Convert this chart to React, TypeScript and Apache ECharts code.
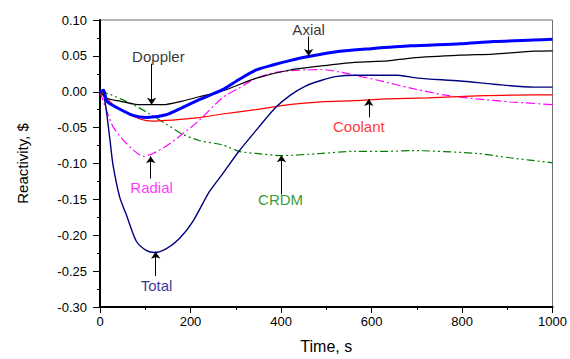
import React, { useEffect, useRef } from "react";
import * as echarts from "echarts";

// ---- data (time in s, reactivity in $) ----
const axialT = [0, 8, 15, 37, 73, 103, 146, 182, 219, 270, 307, 344, 380, 417, 461, 526, 599, 687, 796, 870, 958, 1000];
const axialV = [0, 0.002, -0.013, -0.022, -0.033, -0.036, -0.032, -0.022, -0.011, 0.0025, 0.017, 0.030, 0.037, 0.043, 0.049, 0.056, 0.060, 0.064, 0.067, 0.070, 0.072, 0.073];

const dopplerT = [0, 15, 44, 88, 139, 182, 219, 270, 344, 417, 489, 563, 636, 687, 796, 870, 958, 1000];
const dopplerV = [0, -0.009, -0.013, -0.018, -0.018, -0.013, -0.007, 0.001, 0.0186, 0.030, 0.036, 0.041, 0.043, 0.047, 0.051, 0.0525, 0.0565, 0.057];

const coolantT = [0, 15, 29, 58, 88, 117, 146, 219, 270, 344, 417, 489, 563, 636, 724, 833, 958, 1000];
const coolantV = [0, -0.009, -0.018, -0.029, -0.038, -0.041, -0.040, -0.036, -0.031, -0.025, -0.018, -0.014, -0.0125, -0.010, -0.0085, -0.0058, -0.0044, -0.0044];

const radialT = [0, 15, 29, 51, 73, 95, 117, 146, 182, 219, 270, 307, 344, 388, 439, 489, 526, 563, 614, 687, 760, 833, 906, 1000];
const radialV = [0, -0.027, -0.049, -0.067, -0.081, -0.090, -0.086, -0.076, -0.059, -0.040, -0.0085, 0.005, 0.0186, 0.027, 0.030, 0.031, 0.028, 0.023, 0.016, 0.005, -0.0044, -0.010, -0.014, -0.018];

const crdmT = [0, 20, 73, 110, 146, 182, 219, 270, 307, 344, 401, 489, 563, 636, 687, 833, 906, 1000];
const crdmV = [0, -0.003, -0.018, -0.031, -0.045, -0.059, -0.068, -0.074, -0.083, -0.086, -0.089, -0.086, -0.083, -0.083, -0.082, -0.086, -0.092, -0.099];

const totalT = [0, 6, 10, 15, 22, 29, 44, 58, 80, 102, 121, 146, 175, 205, 241, 268, 307, 350, 388, 420, 454, 490, 520, 563, 658, 702, 796, 870, 958, 1000];
const totalV = [0, 0.002, -0.01, -0.031, -0.067, -0.103, -0.148, -0.171, -0.208, -0.221, -0.224, -0.219, -0.205, -0.181, -0.140, -0.117, -0.083, -0.050, -0.022, -0.005, 0.008, 0.016, 0.021, 0.023, 0.023, 0.019, 0.015, 0.0105, 0.0065, 0.0065];

// annotation labels: text, anchor (time, value), colour
const labelNames = ["Doppler", "Axial", "Coolant", "Radial", "Total", "CRDM"];
const labelT = [129, 461, 572, 114, 125, 399];
const labelV = [0.0498, 0.0864, -0.048, -0.133, -0.270, -0.150];
const labelColors = ["#000000", "#000000", "#ff0000", "#ff00ff", "#000080", "#008000"];

// arrows: from (t, v1) to tip (t, v2)
const arrowT = [114, 461, 594, 112, 123, 401];
const arrowFrom = [0.039, 0.077, -0.0356, -0.121, -0.257, -0.143];
const arrowTo = [-0.018, 0.0498, -0.010, -0.090, -0.223, -0.0885];

const zip = (t: number[], v: number[]) => t.map((x, i) => [x, v[i]]);
const FONT = "Liberation Sans, Arial, Helvetica, sans-serif";

export default function App() {
  const ref = useRef<HTMLDivElement>(null);
  useEffect(() => {
    if (!ref.current) return;
    const chart = echarts.init(ref.current, null, { renderer: "svg" });
    const lineBase = {
      type: "line",
      showSymbol: false,
      symbol: "none",
      silent: true,
      smooth: 0.25,
    };
    chart.setOption({
      animation: false,
      backgroundColor: "#ffffff",
      grid: { left: 100, right: 14, top: 20, bottom: 44, show: true, borderColor: "#6e6e6e", borderWidth: 1 },
      xAxis: {
        type: "value",
        min: 0,
        max: 1000,
        interval: 200,
        name: "Time, s",
        nameLocation: "middle",
        nameGap: 31,
        nameTextStyle: { fontSize: 16, color: "#000", fontFamily: FONT },
        axisLine: { onZero: false, lineStyle: { color: "#000", width: 2 } },
        axisTick: { show: true, inside: false, length: 6, lineStyle: { color: "#000", width: 1 } },
        minorTick: { show: true, splitNumber: 2, length: 3, lineStyle: { color: "#000", width: 1 } },
        axisLabel: { fontSize: 13, color: "#000", fontFamily: FONT, margin: 8, formatter: (v: number) => String(v) },
        splitLine: { show: false },
      },
      yAxis: {
        type: "value",
        min: -0.3,
        max: 0.1,
        interval: 0.05,
        name: "Reactivity, $",
        nameLocation: "middle",
        nameGap: 70,
        nameTextStyle: { fontSize: 15, color: "#000", fontFamily: FONT },
        axisLine: { onZero: false, lineStyle: { color: "#000", width: 2 } },
        axisTick: { show: true, inside: false, length: 7, lineStyle: { color: "#000", width: 1 } },
        minorTick: { show: true, splitNumber: 2, length: 3, lineStyle: { color: "#000", width: 1 } },
        axisLabel: {
          fontSize: 13,
          color: "#000",
          fontFamily: FONT,
          margin: 13,
          formatter: (v: number) => v.toFixed(2),
        },
        splitLine: { show: false },
      },
      series: [
        { ...lineBase, name: "CRDM", data: zip(crdmT, crdmV), lineStyle: { color: "#008000", width: 1.2, type: [8, 3, 2, 3, 2, 3] } },
        { ...lineBase, name: "Radial", data: zip(radialT, radialV), lineStyle: { color: "#ff00ff", width: 1.2, type: [9, 3, 2, 3] } },
        { ...lineBase, name: "Coolant", data: zip(coolantT, coolantV), lineStyle: { color: "#ff0000", width: 1.2 } },
        { ...lineBase, name: "Doppler", data: zip(dopplerT, dopplerV), lineStyle: { color: "#000000", width: 1.2 } },
        { ...lineBase, name: "Total", data: zip(totalT, totalV), lineStyle: { color: "#000080", width: 1.4 } },
        { ...lineBase, name: "Axial", data: zip(axialT, axialV), lineStyle: { color: "#0000ff", width: 3 } },
        {
          type: "scatter",
          name: "labels",
          silent: true,
          symbolSize: 1,
          itemStyle: { color: "rgba(0,0,0,0)" },
          data: labelNames.map((n, i) => ({
            value: [labelT[i], labelV[i]],
            label: {
              show: true,
              position: "inside",
              formatter: n,
              color: labelColors[i],
              fontSize: 15,
              fontFamily: FONT,
            },
          })),
          markLine: {
            silent: true,
            symbol: ["none", "arrow"],
            symbolSize: 7,
            label: { show: false },
            lineStyle: { color: "#000", width: 1, type: "solid" },
            data: arrowT.map((t, i) => [
              { coord: [t, arrowFrom[i]] },
              { coord: [t, arrowTo[i]] },
            ]),
          },
        },
      ],
    });
    return () => chart.dispose();
  }, []);
  return (
    <div
      ref={ref}
      style={{ position: "absolute", left: 0, top: 0, width: 570, height: 359 }}
    />
  );
}
